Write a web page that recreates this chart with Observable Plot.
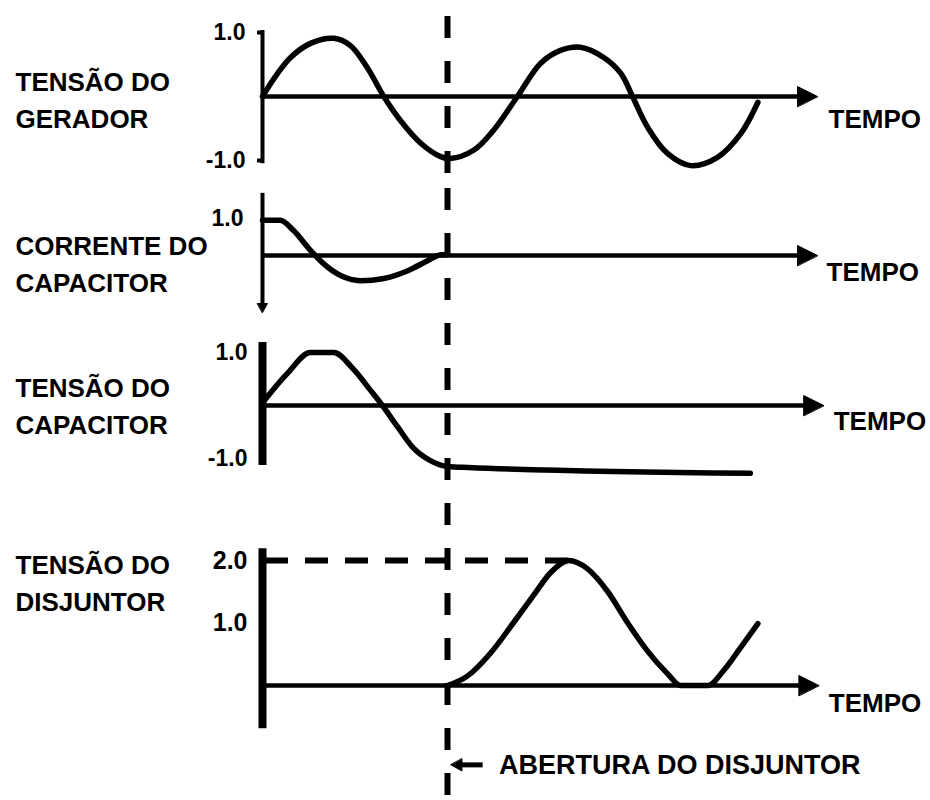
<!DOCTYPE html>
<html>
<head>
<meta charset="utf-8">
<script src="https://cdn.jsdelivr.net/npm/d3@7"></script>
<script src="https://cdn.jsdelivr.net/npm/@observablehq/plot@0.6"></script>
<style>
  html, body { margin: 0; padding: 0; background: #fff; }
  #chart { position: relative; width: 930px; height: 800px; background: #fff; }
  #chart .panel { position: absolute; left: 0; }
  #chart svg { display: block; }
</style>
</head>
<body>
<div id="chart"></div>
<script>
// ---------- DATA (time in electrical degrees, values in p.u.) ----------
const breakerOpenT = 270;            // instant of "ABERTURA DO DISJUNTOR"
const timeLabel = "TEMPO";
const annotationText = "ABERTURA DO DISJUNTOR";

// Panel 1 - generator voltage
const genLabel = "TENSÃO DO\nGERADOR";
const genT = [0, 22, 41, 70, 104, 128, 153, 177, 201, 231, 260, 274, 308, 337, 372, 406, 435, 464, 498, 523, 540, 562, 591, 625, 664, 698, 723];
const genV = [0, 0.36, 0.61, 0.83, 0.91, 0.80, 0.45, 0, -0.37, -0.73, -0.94, -0.97, -0.84, -0.53, 0, 0.52, 0.72, 0.77, 0.61, 0.36, 0, -0.48, -0.89, -1.08, -0.95, -0.58, -0.09];
const genTicks = [1, -1];
const genAxisExtent = [-1.05, 1.03];
const genTimeEnd = 810;

// Panel 2 - capacitor current
const curLabel = "CORRENTE DO\nCAPACITOR";
const curT = [0, 26, 45, 70, 89, 114, 143, 177, 212, 241, 260, 270];
const curV = [0.95, 0.95, 0.68, 0.14, -0.22, -0.54, -0.68, -0.62, -0.41, -0.14, 0.02, 0.03];
const curTicks = [1];
const curAxisExtent = [-1.45, 1.68];
const curAxisBottom = -1.54;
const curTimeEnd = 810;

// Panel 3 - capacitor voltage
const capLabel = "TENSÃO DO\nCAPACITOR";
const capT = [0, 36, 70, 104, 133, 158, 175, 197, 220, 245, 270, 300, 712];
const capV = [0.05, 0.6, 1.0, 1.0, 0.68, 0.28, 0, -0.40, -0.80, -1.04, -1.15, -1.17, -1.28];
const capTicks = [1, -1];
const capAxisExtent = [-1.13, 1.19];
const capTimeEnd = 819;

// Panel 4 - breaker voltage
const brkLabel = "TENSÃO DO\nDISJUNTOR";
const brkT = [270, 299, 333, 366, 396, 420, 447, 474, 504, 533, 562, 591, 610, 650, 673, 698, 723];
const brkV = [0, 0.15, 0.52, 1.0, 1.45, 1.8, 2.0, 1.87, 1.5, 1.0, 0.55, 0.19, 0.0, 0.0, 0.24, 0.61, 0.99];
const brkTicks = [2, 1];
const brkAxisExtent = [-0.69, 2.19];
const brkTimeEnd = 812;
const annotationY = -1.27;
const annotationArrow = [322, 275];   // from -> to (degrees)
const annotationTextT = 345;

// ---------- helpers ----------
const zip = (T, V) => T.map((t, i) => ({t, v: V[i]}));
const fmt = d => d.toFixed(1);
const FONT = "'Liberation Sans', Arial, Helvetica, sans-serif";
const CURVE = "monotone-x";
const triangle = {
  draw(context, l, r) {
    context.moveTo(0, -l);
    context.lineTo(-r, 0);
    context.lineTo(r, 0);
    context.closePath();
  }
};
const DASH_START = 8;

function timeAxis(end, y0 = 0) {
  return [
    Plot.ruleY([y0], {x1: 0, x2: end - 12, strokeWidth: 4.5, stroke: "black"}),
    Plot.vector([{x: end, y: y0}], {x: "x", y: "y", rotate: 90, length: 20, r: 10, anchor: "end",
      shape: triangle, fill: "black", stroke: "black", strokeWidth: 1})
  ];
}
function timeText(end, dx, dy) {
  return Plot.text([timeLabel], {x: end, y: 0, text: d => d, dx, dy, textAnchor: "start",
    fontSize: 26, fontWeight: "bold", fill: "black"});
}
function sideLabel(label, y, dy) {
  return Plot.text([label], {frameAnchor: "left", y, text: d => d, dx: -247, dy, textAnchor: "start",
    lineHeight: 1.42, fontSize: 26, fontWeight: "bold", fill: "black"});
}

const chart = document.getElementById("chart");
function panel({top, height, marginTop = 0, yDomain, yRange, marks}) {
  const svg = Plot.plot({
    width: 930,
    height,
    marginTop,
    marginBottom: 0,
    marginLeft: 262,
    marginRight: 113,
    x: {domain: [0, 810], range: [262, 817], axis: null},
    y: {domain: yDomain, range: yRange, axis: null, label: null},
    style: {fontFamily: FONT, fontWeight: "bold", background: "transparent", color: "black", overflow: "visible"},
    marks: [
      ...marks,
      Plot.ruleX([breakerOpenT], {stroke: "black", strokeWidth: 6, strokeDasharray: "22,23",
        strokeDashoffset: top - DASH_START})
    ]
  });
  const div = document.createElement("div");
  div.className = "panel";
  div.style.top = top + "px";
  div.appendChild(svg);
  chart.appendChild(div);
}

// ---------- Panel 1 ----------
panel({
  top: 0, height: 185, marginTop: DASH_START,
  yDomain: [-1, 1], yRange: [160, 32],
  marks: [
    Plot.ruleX([0], {y1: genAxisExtent[0], y2: genAxisExtent[1], strokeWidth: 4, stroke: "black"}),
    Plot.axisY(genTicks, {tickFormat: fmt, tickSize: 5, tickPadding: 12, fontSize: 23, strokeWidth: 4, label: null}),
    ...timeAxis(genTimeEnd),
    Plot.line(zip(genT, genV), {x: "t", y: "v", curve: "catmull-rom", strokeWidth: 5.5, stroke: "black"}),
    timeText(genTimeEnd, 11, 23),
    sideLabel(genLabel, 0, 1)
  ]
});

// ---------- Panel 2 ----------
panel({
  top: 185, height: 135,
  yDomain: [0, 1], yRange: [70, 33],
  marks: [
    Plot.ruleX([0], {y1: curAxisExtent[0], y2: curAxisExtent[1], strokeWidth: 4, stroke: "black"}),
    Plot.vector([{x: 0, y: curAxisBottom}], {x: "x", y: "y", rotate: 180, length: 9, r: 5, anchor: "end",
      shape: triangle, fill: "black", stroke: "black", strokeWidth: 1}),
    Plot.axisY(curTicks, {tickFormat: fmt, tickSize: 0, tickPadding: 19, fontSize: 23, label: null}),
    ...timeAxis(curTimeEnd),
    Plot.line(zip(curT, curV), {x: "t", y: "v", curve: CURVE, strokeWidth: 5.5, stroke: "black"}),
    timeText(curTimeEnd, 9, 17),
    sideLabel(curLabel, 0, 6)
  ]
});

// ---------- Panel 3 ----------
panel({
  top: 320, height: 180,
  yDomain: [-1, 1], yRange: [138, 32],
  marks: [
    Plot.ruleX([0], {y1: capAxisExtent[0], y2: capAxisExtent[1], strokeWidth: 8, stroke: "black"}),
    Plot.axisY(capTicks, {tickFormat: fmt, tickSize: 0, tickPadding: 15, fontSize: 23, label: null}),
    ...timeAxis(capTimeEnd),
    Plot.line(zip(capT, capV), {x: "t", y: "v", curve: CURVE, strokeWidth: 5.5, stroke: "black"}),
    timeText(capTimeEnd, 10, 16),
    sideLabel(capLabel, 0, -2)
  ]
});

// ---------- Panel 4 ----------
const brkData = zip(brkT, brkV);
const brkPeak = brkData.reduce((a, b) => (b.v > a.v ? b : a));
panel({
  top: 500, height: 300,
  yDomain: [0, 2], yRange: [185, 60],
  marks: [
    Plot.ruleX([0], {y1: brkAxisExtent[0], y2: brkAxisExtent[1], strokeWidth: 8, stroke: "black"}),
    Plot.axisY(brkTicks, {tickFormat: fmt, tickSize: 0, tickPadding: 15, fontSize: 25, label: null}),
    Plot.ruleY([brkPeak.v], {x1: 0, x2: brkPeak.t, stroke: "black", strokeWidth: 6, strokeDasharray: "23,17", strokeDashoffset: -3}),
    ...timeAxis(brkTimeEnd),
    Plot.line(brkData, {x: "t", y: "v", curve: CURVE, strokeWidth: 5.5, stroke: "black"}),
    timeText(brkTimeEnd, 10, 18),
    sideLabel(brkLabel, 2, 20),
    Plot.ruleY([annotationY], {x1: annotationArrow[0], x2: annotationArrow[1] + 8, stroke: "black", strokeWidth: 5}),
    Plot.vector([{x: annotationArrow[1], y: annotationY}], {x: "x", y: "y", rotate: -90, length: 11, r: 6, anchor: "end",
      shape: triangle, fill: "black", stroke: "black", strokeWidth: 1}),
    Plot.text([annotationText], {x: annotationTextT, y: annotationY, text: d => d, textAnchor: "start",
      fontSize: 27, fontWeight: "bold", fill: "black"})
  ]
});
</script>
</body>
</html>
